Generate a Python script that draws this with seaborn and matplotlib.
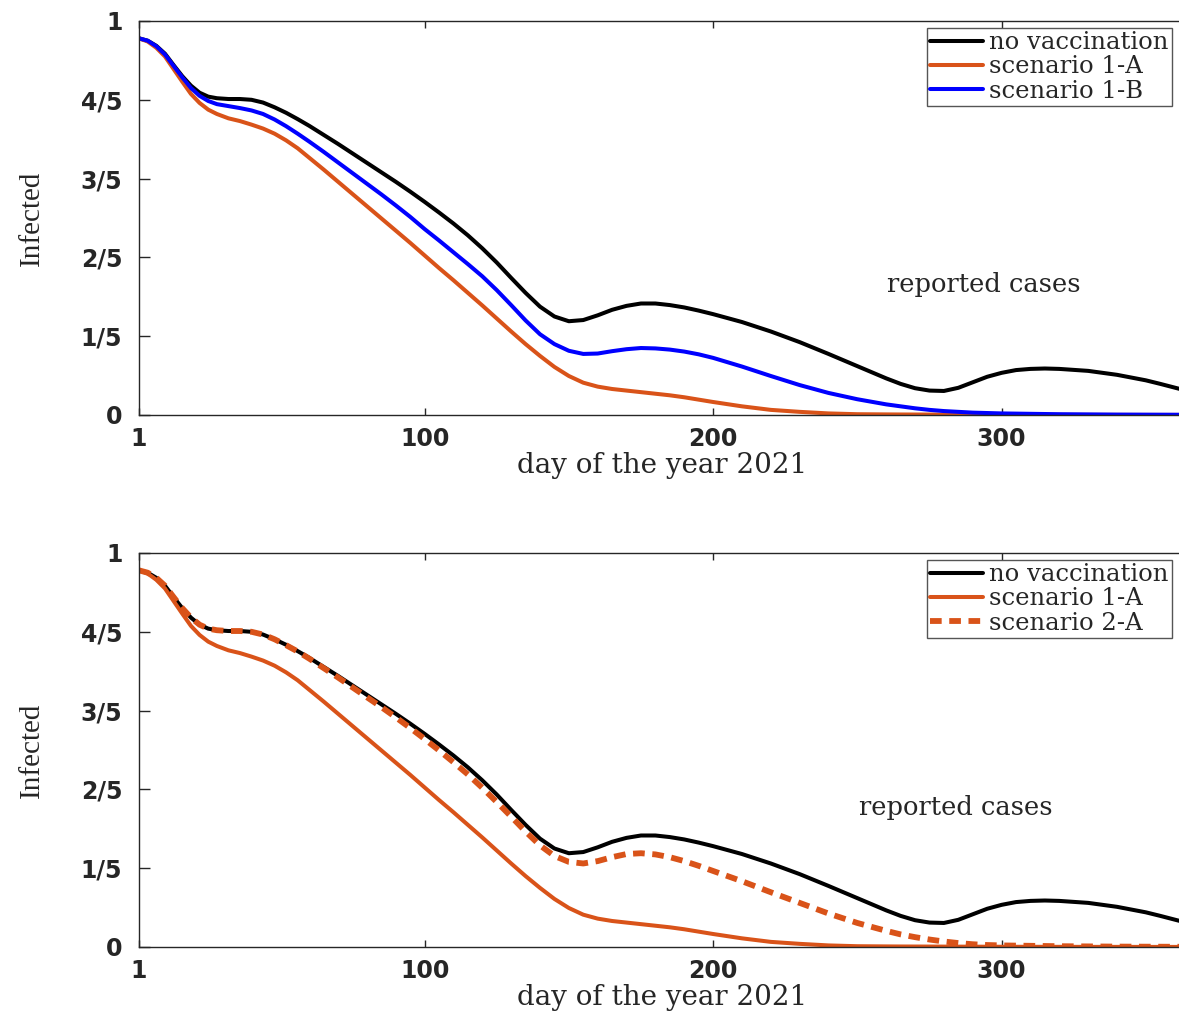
import numpy as np
import pandas as pd
import matplotlib
matplotlib.use("Agg")
import matplotlib.pyplot as plt
import seaborn as sns

# === Data ===
days = [1, 4, 7, 10, 13, 16, 19, 22, 25, 28, 32, 36, 40, 44, 48, 52, 56, 60, 65, 70,
        75, 80, 85, 90, 95, 100, 105, 110, 115, 120, 125, 130, 135, 140, 145, 150, 155, 160,
        165, 170, 175, 180, 185, 190, 195, 200, 210, 220, 230, 240, 250, 260, 265, 270, 275,
        280, 285, 290, 295, 300, 305, 310, 315, 320, 330, 340, 350, 355, 365]

no_vacc = [0.956, 0.950, 0.937, 0.917, 0.888, 0.860, 0.836, 0.818, 0.808, 0.804, 0.802, 0.802,
           0.800, 0.793, 0.781, 0.767, 0.751, 0.734, 0.711, 0.688, 0.664, 0.640, 0.616, 0.592,
           0.567, 0.541, 0.514, 0.486, 0.456, 0.423, 0.387, 0.348, 0.310, 0.275, 0.250, 0.238,
           0.241, 0.253, 0.267, 0.277, 0.283, 0.283, 0.279, 0.273, 0.265, 0.256, 0.236, 0.212,
           0.185, 0.155, 0.124, 0.093, 0.079, 0.068, 0.062, 0.061, 0.069, 0.083, 0.097, 0.107,
           0.114, 0.117, 0.118, 0.117, 0.112, 0.102, 0.088, 0.079, 0.060]

scen_1a = [0.956, 0.948, 0.932, 0.910, 0.878, 0.846, 0.815, 0.792, 0.775, 0.764, 0.753, 0.746,
           0.737, 0.727, 0.714, 0.697, 0.677, 0.653, 0.623, 0.592, 0.561, 0.530, 0.499, 0.468,
           0.437, 0.405, 0.373, 0.342, 0.310, 0.278, 0.245, 0.212, 0.180, 0.150, 0.122, 0.099,
           0.082, 0.072, 0.066, 0.062, 0.058, 0.054, 0.050, 0.045, 0.039, 0.033, 0.022, 0.013,
           0.008, 0.004, 0.002, 0.0015, 0.0013, 0.0012, 0.0011, 0.0010, 0.0009, 0.0008, 0.0007,
           0.0006, 0.0005, 0.0005, 0.0004, 0.0004, 0.0003, 0.0003, 0.0002, 0.0002, 0.0002]

scen_1b = [0.956, 0.950, 0.936, 0.915, 0.886, 0.857, 0.830, 0.810, 0.797, 0.789, 0.784, 0.779,
           0.773, 0.764, 0.750, 0.733, 0.714, 0.694, 0.668, 0.641, 0.614, 0.587, 0.560, 0.532,
           0.503, 0.472, 0.443, 0.413, 0.383, 0.352, 0.317, 0.279, 0.240, 0.205, 0.180, 0.163,
           0.155, 0.156, 0.162, 0.167, 0.170, 0.169, 0.166, 0.161, 0.154, 0.145, 0.123, 0.099,
           0.076, 0.056, 0.040, 0.027, 0.022, 0.017, 0.013, 0.010, 0.008, 0.006, 0.005, 0.004,
           0.0035, 0.003, 0.0025, 0.002, 0.0015, 0.001, 0.0008, 0.0007, 0.0005]

scen_2a = [0.956, 0.950, 0.937, 0.917, 0.888, 0.860, 0.836, 0.818, 0.808, 0.804, 0.802, 0.802,
           0.800, 0.793, 0.781, 0.766, 0.750, 0.732, 0.708, 0.684, 0.659, 0.634, 0.609, 0.583,
           0.556, 0.528, 0.499, 0.469, 0.438, 0.404, 0.368, 0.331, 0.293, 0.258, 0.231, 0.216,
           0.212, 0.218, 0.228, 0.236, 0.238, 0.235, 0.228, 0.218, 0.206, 0.193, 0.167, 0.139,
           0.112, 0.085, 0.061, 0.041, 0.032, 0.025, 0.019, 0.014, 0.010, 0.007, 0.005, 0.004,
           0.0035, 0.003, 0.0025, 0.002, 0.0015, 0.001, 0.0008, 0.0007, 0.0005]

y_ticks = [0, 0.2, 0.4, 0.6, 0.8, 1.0]
y_ticklabels = ["0", "1/5", "2/5", "3/5", "4/5", "1"]
x_ticks = [1, 100, 200, 300]

df = pd.DataFrame({"day": days, "no vaccination": no_vacc, "scenario 1-A": scen_1a,
                   "scenario 1-B": scen_1b, "scenario 2-A": scen_2a})

# === Style ===
sns.set_theme(style="ticks")
plt.rcParams["font.family"] = ["DejaVu Sans"]

BLACK = "#000000"
ORANGE = "#D95319"
BLUE = "#0000FF"
SPINE = "#262626"

fig = plt.figure(figsize=(11.79, 10.11), dpi=100)
ax1 = fig.add_axes([139 / 1179, 596 / 1011, 1040 / 1179, 394 / 1011])
ax2 = fig.add_axes([139 / 1179, 64 / 1011, 1040 / 1179, 394 / 1011])


def draw_panel(ax, series, text_xy):
    for name, color, dash in series:
        sns.lineplot(data=df, x="day", y=name, color=color, linewidth=2.9, label=name, ax=ax)
        if dash:
            ax.lines[-1].set_linewidth(4.2)
            ax.lines[-1].set_dashes((2.0, 1.3))

    ax.set_xlim(1, 361.5)
    ax.set_ylim(0, 1)
    ax.set_yticks(y_ticks)
    ax.set_yticklabels(y_ticklabels)
    ax.set_xticks(x_ticks)
    ax.tick_params(axis="both", direction="in", colors=SPINE, labelcolor="#262626",
                   labelsize=17, top=True, right=False, width=1)
    ax.tick_params(axis="x", length=5, pad=9)
    ax.tick_params(axis="y", length=8, pad=12)
    for lab in ax.get_xticklabels() + ax.get_yticklabels():
        lab.set_fontweight("bold")
    for side in ["left", "bottom", "top"]:
        ax.spines[side].set_color(SPINE)
        ax.spines[side].set_linewidth(1.0)
    ax.spines["right"].set_visible(False)

    ax.set_xlabel("day of the year 2021", family="DejaVu Serif", fontsize=20, color="#262626")
    ax.xaxis.set_label_coords(0.503, -0.095)
    ax.set_ylabel("Infected", family="Liberation Serif", fontsize=21, color="#262626")
    ax.yaxis.set_label_coords(-0.09, 0.5)

    ax.text(text_xy[0], text_xy[1], "reported cases", family="DejaVu Serif", fontsize=18.5,
            ha="center", va="center", color="#262626")

    leg = ax.legend(loc="upper right", prop={"family": "DejaVu Serif", "size": 17.5},
                    frameon=True, fancybox=False, framealpha=1, edgecolor="#555555",
                    handlelength=2.2, handletextpad=0.25, borderpad=0.12, labelspacing=0.05,
                    borderaxespad=0.3)
    leg.get_frame().set_linewidth(1.0)
    for t in leg.get_texts():
        t.set_color("#262626")


draw_panel(ax1, [("no vaccination", BLACK, False), ("scenario 1-A", ORANGE, False),
                 ("scenario 1-B", BLUE, False)], (294, 0.33))
draw_panel(ax2, [("no vaccination", BLACK, False), ("scenario 1-A", ORANGE, False),
                 ("scenario 2-A", ORANGE, True)], (284, 0.353))

fig.savefig("out.png", dpi=100, facecolor="white")
